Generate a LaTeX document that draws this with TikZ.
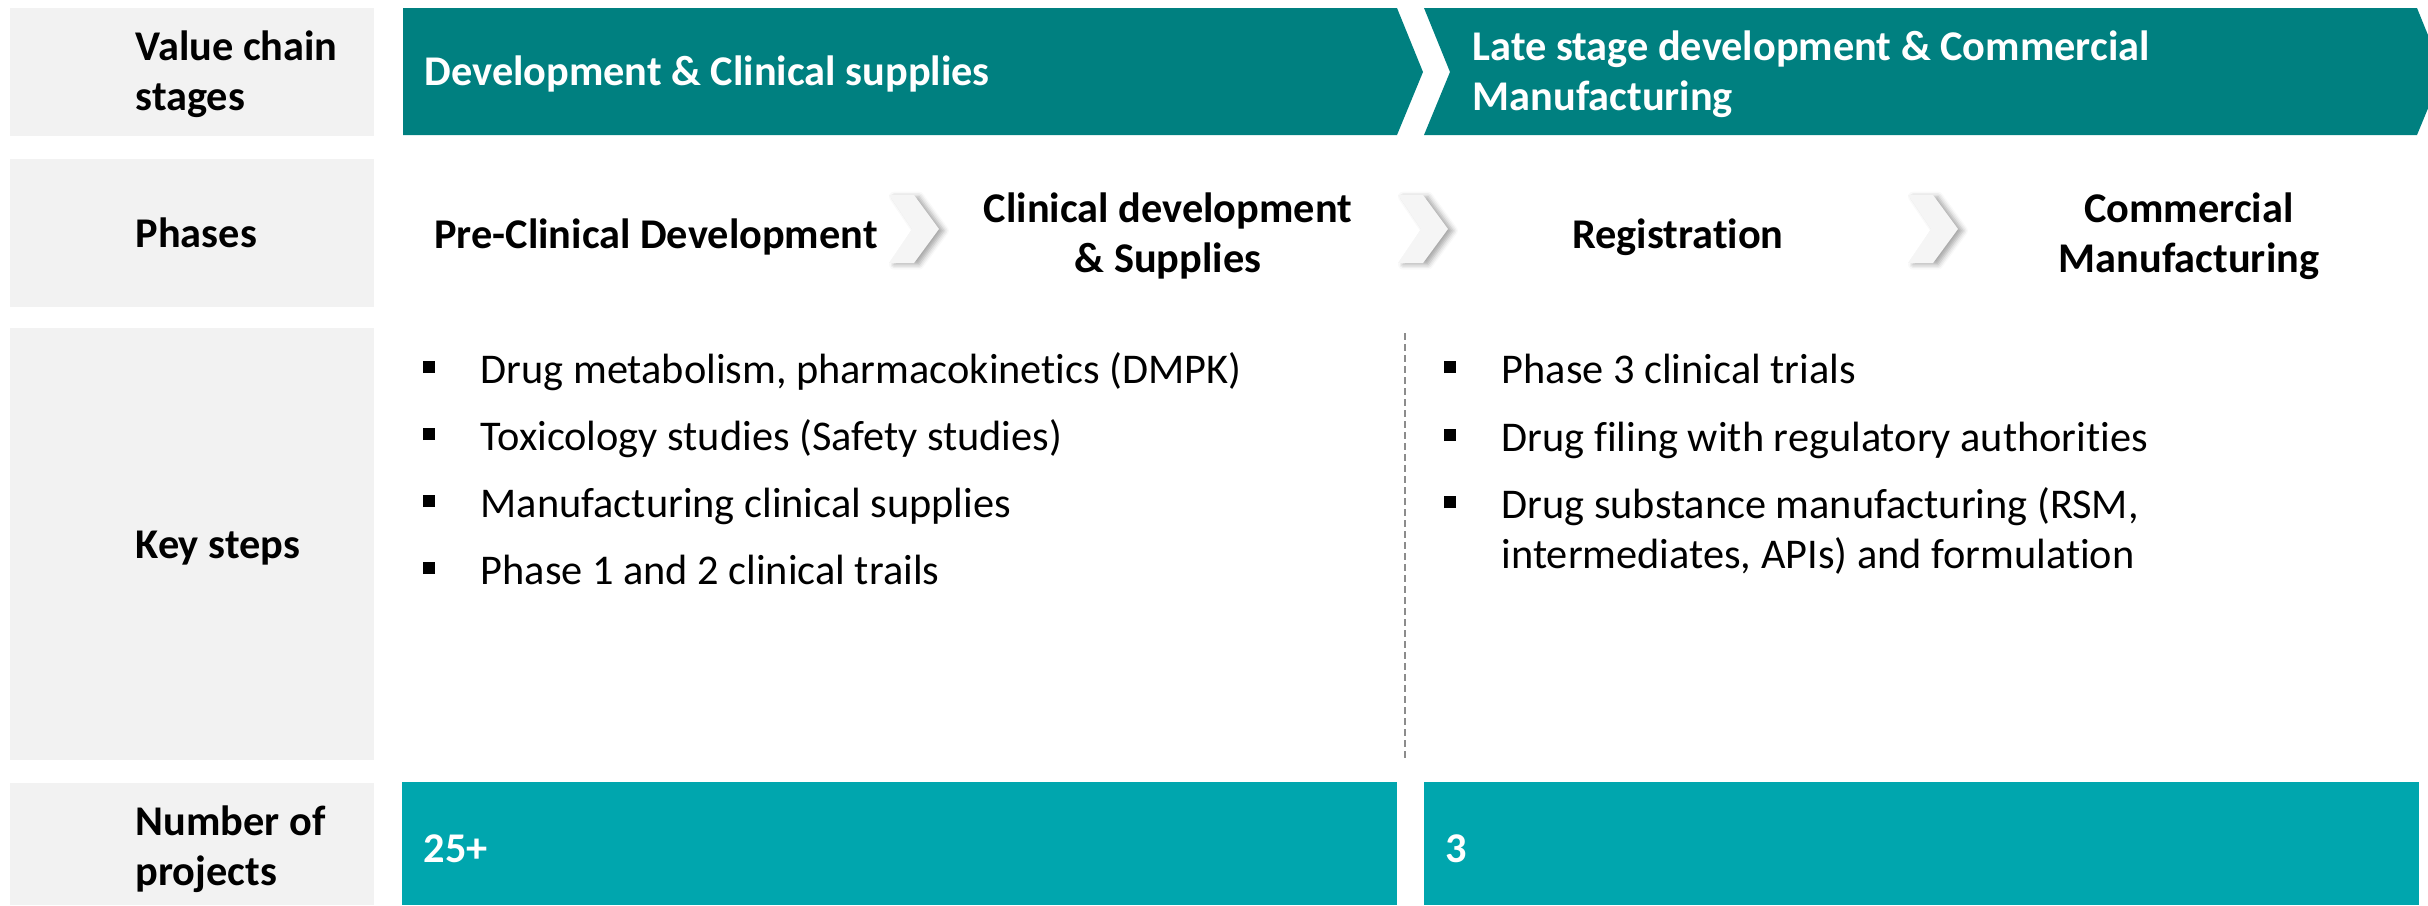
\documentclass[tikz,border=0pt]{standalone}
\usepackage{fontspec}
\setmainfont{Carlito}[Ligatures=NoCommon]
\usetikzlibrary{shadows.blur}

\definecolor{stageteal}{RGB}{0,128,128}
\definecolor{countteal}{RGB}{0,166,174}
\definecolor{rowgray}{RGB}{242,242,242}

\newcommand{\sqbullet}{\llap{\rule[3pt]{3.6pt}{3.6pt}\hspace{13.8pt}}}

\begin{document}
\begin{tikzpicture}[
  x=0.3pt, y=-0.3pt,
  every node/.style={inner sep=0pt, font=\fontsize{12.7}{15}\selectfont},
  rowbox/.style={fill=rowgray},
  stage/.style={fill=stageteal},
  count/.style={fill=countteal},
  rowlabel/.style={anchor=base west, align=left, font=\fontsize{12.7}{15}\selectfont\bfseries},
  stagetext/.style={anchor=base west, align=left, text=white, font=\fontsize{12.7}{15}\selectfont\bfseries},
  phase/.style={anchor=base, align=center, font=\fontsize{12.7}{15}\selectfont\bfseries},
  phasearrow/.style={fill=white!96!black, blur shadow={shadow xshift=1.5pt, shadow yshift=-0.5pt, shadow blur radius=1.5pt, shadow opacity=35}},
  keystep/.style={anchor=base west, align=left},
  divider/.style={draw=black!45, line width=0.5pt, dash pattern=on 2.1pt off 1.2pt},
]

\useasboundingbox (0,0) rectangle (2428,905);

\path [rowbox] (10,8) rectangle (374,136);
\path [rowbox] (10,159) rectangle (374,307);
\path [rowbox] (10,328) rectangle (374,760);
\path [rowbox] (10,783) rectangle (374,905);

% multi-line nodes sit on the baseline of their last line
\node [rowlabel] (vcs) at (135,110) {Value chain\\stages};
\node [rowlabel] (phases) at (135,247) {Phases};
\node [rowlabel] (keysteps) at (135,558) {Key steps};
\node [rowlabel] (nproj) at (135,885) {Number of\\projects};

\path [stage] (403,8) -- (1397,8) -- (1423,72) -- (1397,135) -- (403,135) -- cycle;
\path [stage] (1424,8) -- (2417,8) -- (2443,72) -- (2417,135) -- (1424,135) -- (1450,72) -- cycle;
\node [stagetext] (early) at (424,85) {Development \& Clinical supplies};
\node [stagetext] (late) at (1472,110) {Late stage development \& Commercial\\Manufacturing};

\foreach \x in {889,1398,1908}
  \path [phasearrow] (\x,195) -- ++(25,0) -- ++(25,34) -- ++(-25,34) -- ++(-25,0) -- ++(23,-34) -- cycle;

\node [phase] (preclin) at (656,248) {Pre-Clinical Development};
\node [phase] (clindev) at (1168,272) {Clinical development\\\& Supplies};
\node [phase] (regist) at (1678,248) {Registration};
\node [phase] (commfg) at (2189,272) {Commercial\\Manufacturing};

\foreach [count=\i] \txt in {{Drug metabolism, pharmacokinetics (DMPK)},
    {Toxicology studies (Safety studies)},
    {Manufacturing clinical supplies},
    {Phase 1 and 2 clinical trails}}
  \node [keystep] (early\i) at (480,{316+67*\i}) {\sqbullet\txt};

\node [keystep] (late1) at (1501,383) {\sqbullet Phase 3 clinical trials};
\node [keystep] (late2) at (1501,451) {\sqbullet Drug filing with regulatory authorities};
\node [keystep] (late3) at (1501,568) {\sqbullet Drug substance manufacturing (RSM,\\intermediates, APIs) and formulation};

\draw [divider] (1405,333) -- (1405,761);

\path [count] (402,782) rectangle (1397,905);
\path [count] (1424,782) rectangle (2419,905);
\node [stagetext] (earlycount) at (423,862) {25+};
\node [stagetext] (latecount) at (1445,862) {3};

\end{tikzpicture}
\end{document}
